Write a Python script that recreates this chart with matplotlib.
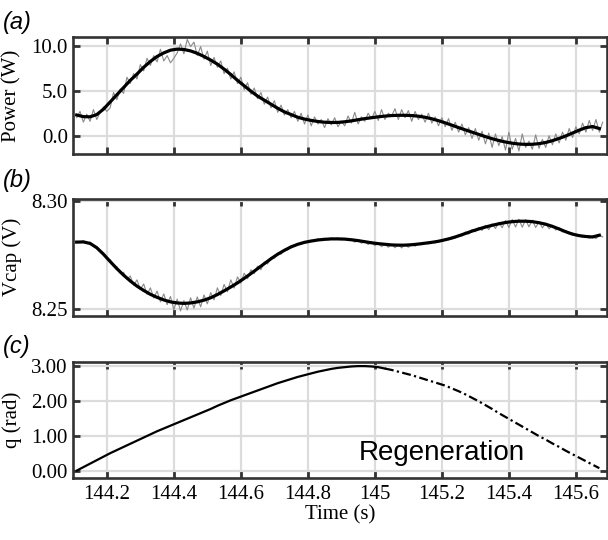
#!/usr/bin/env python3

import numpy as np
import matplotlib
matplotlib.use('Agg')
import matplotlib.pyplot as plt
import matplotlib.ticker

# sample grids: raw trace every 0.01 s, filtered trace every 0.02 s
T_START = 144.11
DT_RAW = 0.01
DT_SMOOTH = 0.02

# (a) power, raw measurement (grey)
POWER_RAW = [
    2.0, 2.7, 1.5, 2.4, 1.6, 2.9, 1.8, 2.6, 3.2, 2.7,
    3.1, 4.8, 4.0, 5.2, 4.7, 6.5, 5.8, 6.9, 6.3, 7.9,
    7.2, 8.6, 7.8, 8.9, 8.2, 9.6, 8.3, 8.9, 8.1, 8.6,
    9.2, 10.2, 9.1, 10.7, 9.9, 10.4, 8.9, 9.9, 8.5, 9.4,
    7.8, 8.7, 7.6, 8.3, 6.9, 7.5, 6.3, 7.1, 5.8, 6.5,
    5.1, 5.9, 4.6, 5.3, 4.1, 4.8, 3.5, 4.3, 3.1, 3.9,
    2.6, 3.4, 2.3, 2.9, 2.0, 2.7, 1.6, 2.5, 1.3, 2.3,
    1.1, 2.1, 1.3, 1.8, 0.9, 1.9, 1.2, 2.0, 1.0, 1.6,
    1.1, 2.2, 1.4, 2.6, 1.3, 2.1, 1.6, 2.5, 1.9, 2.7,
    1.7, 2.9, 1.8, 2.5, 2.2, 3.0, 1.8, 2.9, 2.0, 2.8,
    1.6, 2.7, 1.8, 2.4, 1.5, 2.5, 1.4, 2.1, 1.1, 2.0,
    1.0, 1.9, 0.6, 1.5, 0.4, 1.3, 0.1, 0.9, -0.3, 0.8,
    -0.5, 0.5, -0.9, 0.3, -1.3, 0.2, -1.1, -0.1, -1.6, 0.4,
    -1.5, -0.3, -1.7, 0.2, -1.3, -0.6, -1.5, 0.1, -1.4, -0.4,
    -1.3, 0.0, -1.0, 0.2, -0.8, 0.4, -0.5, 0.8, -0.2, 1.0,
    0.2, 1.4, 0.4, 1.7, 0.6, 1.8, 0.4, 1.5,
]

# (a) power, filtered (black)
POWER_SMOOTH = [
    2.30, 2.12, 2.10, 2.35, 2.95, 3.75, 4.55, 5.35, 6.15, 6.85,
    7.60, 8.25, 8.80, 9.20, 9.50, 9.62, 9.58, 9.42, 9.15, 8.80,
    8.40, 7.95, 7.40, 6.80, 6.15, 5.55, 4.95, 4.40, 3.95, 3.50,
    3.05, 2.65, 2.35, 2.05, 1.85, 1.70, 1.58, 1.50, 1.47, 1.48,
    1.55, 1.65, 1.78, 1.90, 2.00, 2.10, 2.18, 2.24, 2.27, 2.27,
    2.24, 2.17, 2.05, 1.88, 1.67, 1.43, 1.17, 0.90, 0.65, 0.40,
    0.15, -0.10, -0.33, -0.53, -0.70, -0.83, -0.92, -0.96, -0.95, -0.88,
    -0.75, -0.55, -0.30, -0.02, 0.30, 0.62, 0.90, 1.02, 0.80,
]

# (b) capacitor voltage, raw (grey)
VCAP_RAW = [
    8.2812, 8.2806, 8.2814, 8.2803, 8.2808, 8.2789, 8.2786, 8.2764, 8.2758, 8.2731,
    8.2727, 8.2697, 8.2694, 8.2663, 8.2668, 8.2635, 8.2651, 8.2608, 8.2633, 8.2589,
    8.2614, 8.2566, 8.2596, 8.2549, 8.2581, 8.2531, 8.2568, 8.2518, 8.2556, 8.2494,
    8.2544, 8.2489, 8.2537, 8.2493, 8.2550, 8.2502, 8.2554, 8.2508, 8.2563, 8.2522,
    8.2574, 8.2540, 8.2596, 8.2560, 8.2612, 8.2578, 8.2633, 8.2595, 8.2647, 8.2618,
    8.2664, 8.2638, 8.2680, 8.2662, 8.2697, 8.2680, 8.2716, 8.2707, 8.2736, 8.2733,
    8.2757, 8.2752, 8.2775, 8.2772, 8.2790, 8.2788, 8.2801, 8.2800, 8.2811, 8.2807,
    8.2817, 8.2813, 8.2823, 8.2816, 8.2826, 8.2818, 8.2827, 8.2820, 8.2827, 8.2819,
    8.2825, 8.2815, 8.2821, 8.2808, 8.2818, 8.2803, 8.2812, 8.2797, 8.2808, 8.2792,
    8.2804, 8.2787, 8.2800, 8.2784, 8.2798, 8.2782, 8.2797, 8.2781, 8.2798, 8.2784,
    8.2799, 8.2789, 8.2803, 8.2796, 8.2806, 8.2800, 8.2811, 8.2804, 8.2816, 8.2811,
    8.2824, 8.2818, 8.2833, 8.2826, 8.2843, 8.2836, 8.2855, 8.2845, 8.2866, 8.2856,
    8.2876, 8.2862, 8.2886, 8.2866, 8.2893, 8.2871, 8.2900, 8.2875, 8.2908, 8.2876,
    8.2913, 8.2878, 8.2914, 8.2877, 8.2912, 8.2879, 8.2910, 8.2876, 8.2903, 8.2874,
    8.2896, 8.2870, 8.2886, 8.2864, 8.2875, 8.2855, 8.2862, 8.2846, 8.2851, 8.2838,
    8.2843, 8.2830, 8.2838, 8.2826, 8.2836, 8.2824, 8.2841, 8.2832,
]

# (b) capacitor voltage, filtered (black)
VCAP_SMOOTH = [
    8.2808, 8.2809, 8.2802, 8.2782, 8.2752, 8.2718, 8.2685, 8.2655, 8.2628, 8.2604,
    8.2584, 8.2566, 8.2552, 8.2540, 8.2531, 8.2526, 8.2524, 8.2526, 8.2531, 8.2539,
    8.2550, 8.2565, 8.2582, 8.2600, 8.2619, 8.2640, 8.2662, 8.2685, 8.2708, 8.2731,
    8.2752, 8.2770, 8.2786, 8.2798, 8.2807, 8.2813, 8.2818, 8.2821, 8.2823, 8.2823,
    8.2822, 8.2819, 8.2815, 8.2810, 8.2805, 8.2801, 8.2798, 8.2795, 8.2794, 8.2794,
    8.2796, 8.2799, 8.2803, 8.2807, 8.2812, 8.2819, 8.2827, 8.2837, 8.2848, 8.2859,
    8.2869, 8.2878, 8.2886, 8.2893, 8.2899, 8.2903, 8.2905, 8.2905, 8.2903, 8.2898,
    8.2891, 8.2881, 8.2869, 8.2856, 8.2845, 8.2838, 8.2834, 8.2832, 8.2840,
]

# (c) joint angle; regeneration (dash-dot) from REGEN_START on
Q_SMOOTH = [
    0.01, 0.11, 0.21, 0.31, 0.41, 0.51, 0.60, 0.69, 0.78, 0.87,
    0.96, 1.05, 1.14, 1.22, 1.30, 1.38, 1.46, 1.54, 1.62, 1.70,
    1.78, 1.87, 1.95, 2.03, 2.10, 2.17, 2.24, 2.31, 2.38, 2.45,
    2.52, 2.58, 2.64, 2.70, 2.75, 2.80, 2.85, 2.89, 2.93, 2.96,
    2.98, 3.00, 3.01, 3.01, 3.00, 2.98, 2.94, 2.90, 2.85, 2.80,
    2.75, 2.69, 2.63, 2.57, 2.51, 2.45, 2.37, 2.29, 2.20, 2.10,
    2.00, 1.89, 1.78, 1.66, 1.55, 1.44, 1.33, 1.22, 1.11, 1.00,
    0.90, 0.79, 0.69, 0.58, 0.48, 0.38, 0.28, 0.18, 0.08,
]
REGEN_START = 145.03

XTICKS = [144.2, 144.4, 144.6, 144.8, 145.0, 145.2, 145.4, 145.6]
XTICK_LABELS = ['144.2', '144.4', '144.6', '144.8', '145', '145.2', '145.4', '145.6']

SERIF = 'Liberation Serif'
SANS = 'Liberation Sans'
SPINE = '#333333'
GRID = '#dcdcdc'
RAW = '#8a8a8a'


def setup_axes(ax, yticks, yfmt, ylim, ylabel, show_xlabels):

    ax.set_xlim(144.1, 145.693)
    ax.set_ylim(ylim)
    ax.set_xticks(XTICKS)
    ax.set_yticks(yticks)
    ax.yaxis.set_major_formatter(matplotlib.ticker.FormatStrFormatter(yfmt))
    if show_xlabels:
        ax.set_xticklabels(XTICK_LABELS)
    else:
        ax.set_xticklabels([])

    ax.tick_params(direction='in', length=5, width=2, color=SPINE,
                   top=True, right=True, labelsize=15)
    ax.tick_params(axis='x', pad=5)
    ax.tick_params(axis='y', pad=4)
    for lbl in ax.get_xticklabels() + ax.get_yticklabels():
        lbl.set_fontfamily(SERIF)

    for s in ax.spines.values():
        s.set_linewidth(1.9)
        s.set_color(SPINE)
        s.set_zorder(5)

    ax.grid(True, color=GRID, linewidth=1.6, zorder=0)
    ax.set_axisbelow(True)
    ax.set_ylabel(ylabel, fontsize=15, fontfamily=SERIF)
    ax.yaxis.set_label_coords(-0.097, 0.5)


fig = plt.figure(figsize=(6.08, 5.40), dpi=100)

left, width, height = 0.1206, 0.8778, 0.2161
ax_a = fig.add_axes([left, 0.7148, width, height])
ax_b = fig.add_axes([left, 0.4154, width, height])
ax_c = fig.add_axes([left, 0.1143, width, height])

# (a)
t_raw = T_START + DT_RAW * np.arange(len(POWER_RAW))
t_smooth = T_START + DT_SMOOTH * np.arange(len(POWER_SMOOTH))
ax_a.plot(t_raw, POWER_RAW, color=RAW, lw=0.8, zorder=2)
ax_a.plot(t_smooth, POWER_SMOOTH, color='k', lw=2.3, zorder=3)
setup_axes(ax_a, [0, 5, 10], '%.1f', (-2.03, 10.93), 'Power (W)', False)

# (b)
t_raw_v = T_START + DT_RAW * np.arange(len(VCAP_RAW))
t_smooth_v = T_START + DT_SMOOTH * np.arange(len(VCAP_SMOOTH))
ax_b.plot(t_raw_v, VCAP_RAW, color=RAW, lw=0.8, zorder=2)
ax_b.plot(t_smooth_v, VCAP_SMOOTH, color='k', lw=2.3, zorder=3)
setup_axes(ax_b, [8.25, 8.30], '%.2f', (8.2467, 8.3008), 'Vcap (V)', False)

# (c)
t_q = T_START + DT_SMOOTH * np.arange(len(Q_SMOOTH))
q = np.array(Q_SMOOTH)
split = int(np.searchsorted(t_q, REGEN_START - 1e-9))
ax_c.plot(t_q[:split + 1], q[:split + 1], color='k', lw=1.6, zorder=3)
ax_c.plot(t_q[split:], q[split:], color='k', lw=1.6, zorder=3,
          linestyle=(0, (4, 1.5, 1, 1.5)))
setup_axes(ax_c, [0, 1, 2, 3], '%.2f', (-0.21, 3.14), 'q (rad)', True)
ax_c.set_xlabel('Time (s)', fontsize=15, fontfamily=SERIF, labelpad=1)
ax_c.text(145.2, 0.31, 'Regeneration', fontsize=20, fontfamily=SANS,
          ha='center', va='baseline', zorder=4)

# panel tags
for y, tag in [(0.946, '(a)'), (0.654, '(b)'), (0.3457, '(c)')]:
    fig.text(0.005, y, tag, fontsize=17, fontfamily=SANS,
             fontstyle='italic', va='baseline')

fig.savefig('out.png', dpi=100)
